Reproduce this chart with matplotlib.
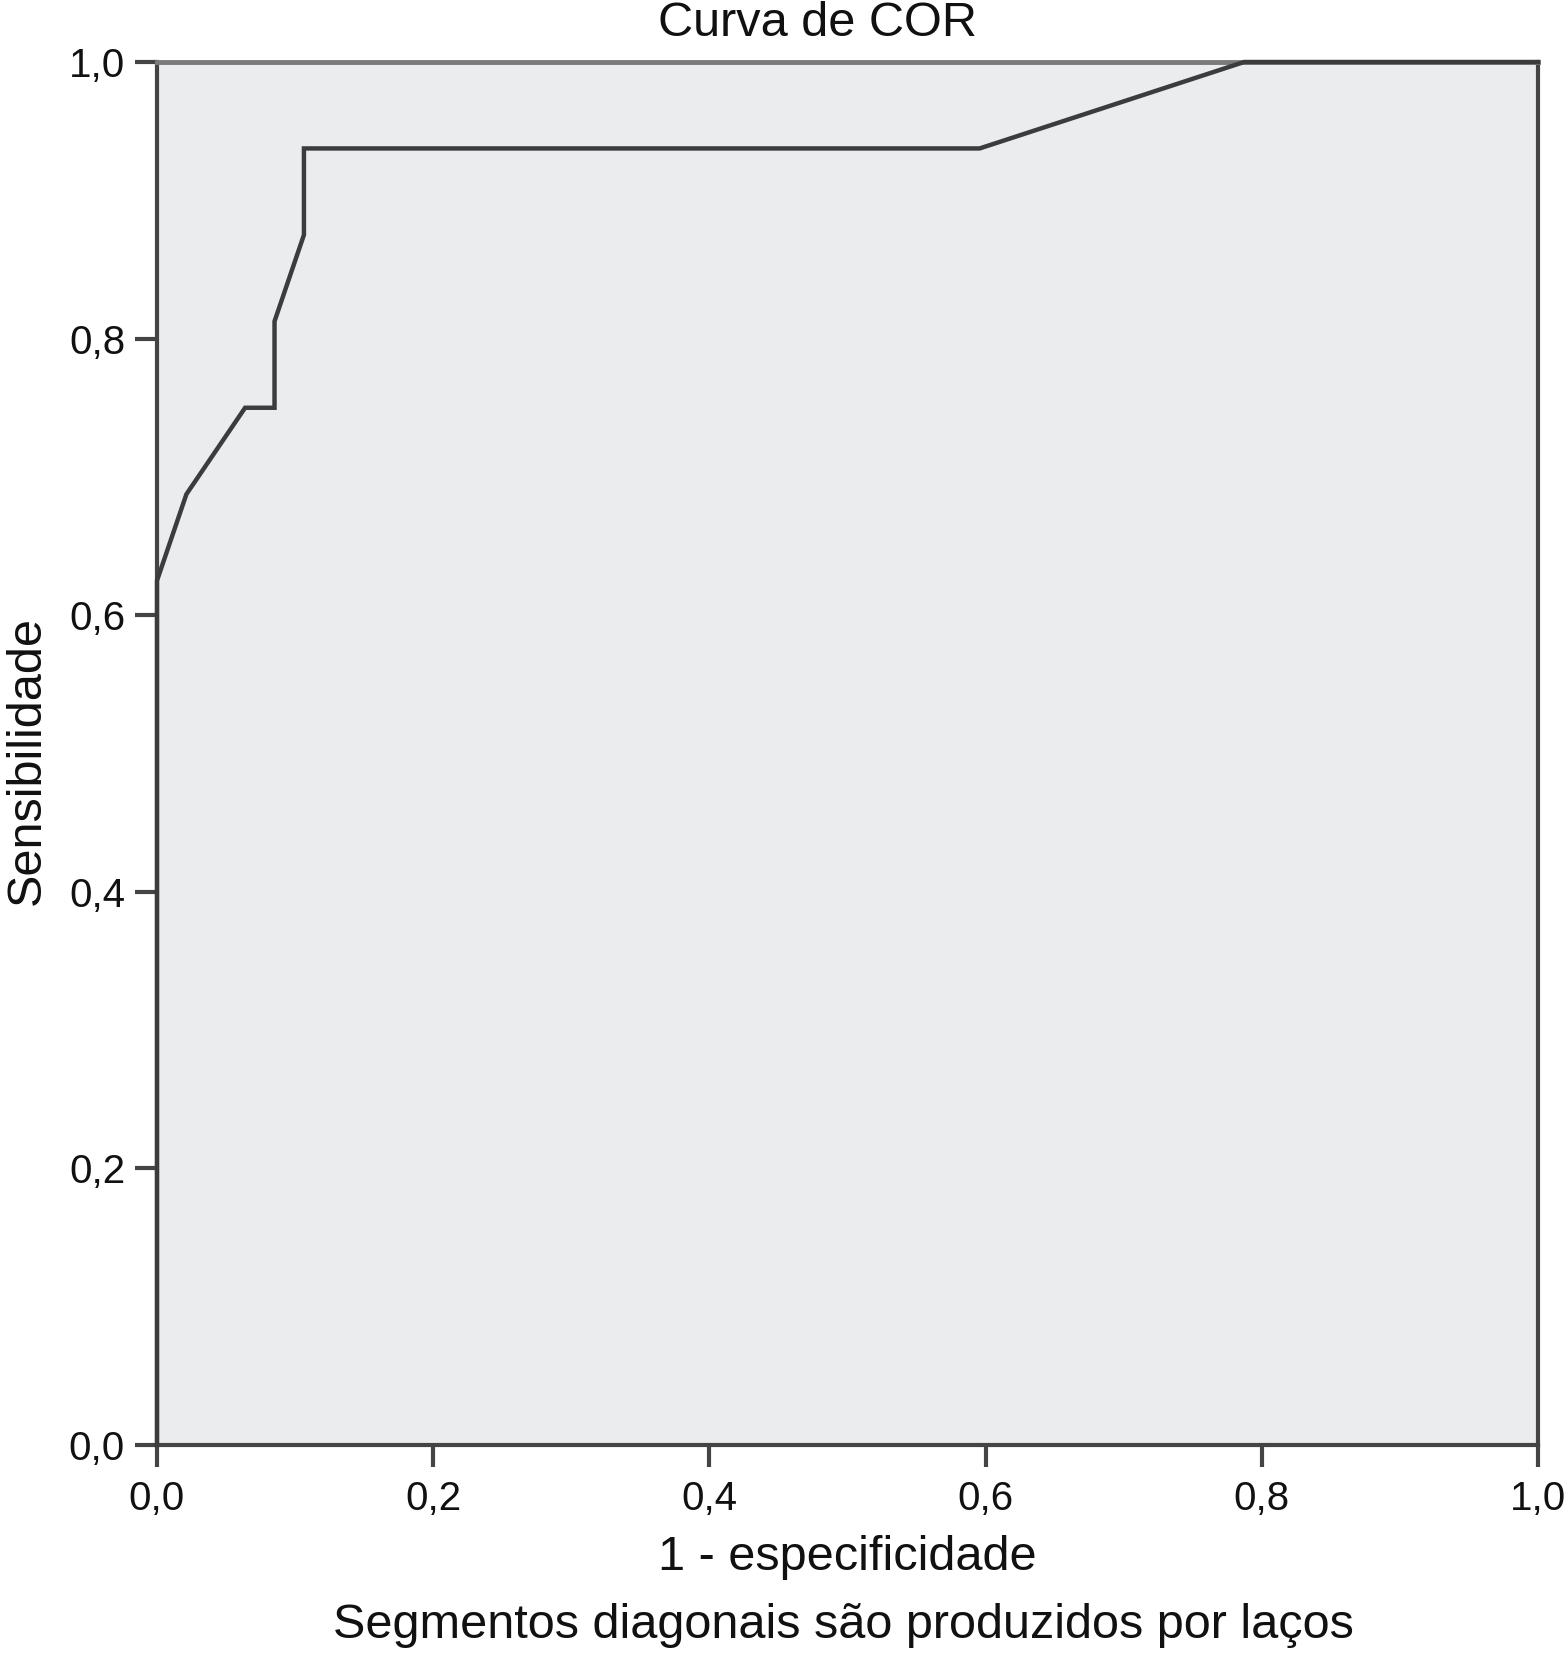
import numpy as np
import matplotlib
matplotlib.use("Agg")
import matplotlib.pyplot as plt

plt.rcParams['font.family'] = ['Liberation Sans', 'DejaVu Sans']

# ROC curve points (1 - specificity, sensitivity)
fpr = [0.0, 0.0, 0.0213, 0.0638, 0.0851, 0.0851, 0.1064, 0.1064, 0.5957, 0.7872, 1.0]
tpr = [0.0, 0.625, 0.6875, 0.75, 0.75, 0.8125, 0.875, 0.9375, 0.9375, 1.0, 1.0]

ticks = [0.0, 0.2, 0.4, 0.6, 0.8, 1.0]
tick_labels = ["0,0", "0,2", "0,4", "0,6", "0,8", "1,0"]

title = "Curva de COR"
xlabel = "1 - especificidade"
ylabel = "Sensibilidade"
note = "Segmentos diagonais são produzidos por laços"


def main():
    fig = plt.figure(figsize=(15.64, 16.53), dpi=100)
    ax = fig.add_axes([157 / 1564, 1 - 1445 / 1653, 1381 / 1564, 1383 / 1653])
    ax.set_facecolor("#ebecee")

    ax.plot(fpr, tpr, color="#3c3c3c", lw=3.2, solid_joinstyle="miter",
            clip_on=False, zorder=3)

    ax.set_xlim(0, 1)
    ax.set_ylim(0, 1)
    ax.set_xticks(ticks)
    ax.set_xticklabels(tick_labels)
    ax.set_yticks(ticks)
    ax.set_yticklabels(tick_labels)
    ax.tick_params(axis="both", labelsize=29, length=16, width=3,
                   color="#444444", labelcolor="#111111")
    ax.tick_params(axis="x", pad=9)
    ax.tick_params(axis="y", pad=7)

    for side in ["left", "bottom", "right"]:
        ax.spines[side].set_linewidth(3)
        ax.spines[side].set_color("#444444")
    ax.spines["top"].set_linewidth(3.5)
    ax.spines["top"].set_color("#7a7a7a")

    fig.text(818 / 1564, 1 - 23 / 1653, title, fontsize=35, ha="center",
             va="center", color="#111111")
    fig.text(847 / 1564, 1 - 1557 / 1653, xlabel, fontsize=35, ha="center",
             va="center", color="#111111")
    fig.text(843 / 1564, 1 - 1626 / 1653, note, fontsize=35, ha="center",
             va="center", color="#111111")
    fig.text(27 / 1564, 1 - 761 / 1653, ylabel, fontsize=35, ha="center",
             va="center", rotation=90, color="#111111")

    fig.savefig("out.png", dpi=100)


if __name__ == "__main__":
    main()
